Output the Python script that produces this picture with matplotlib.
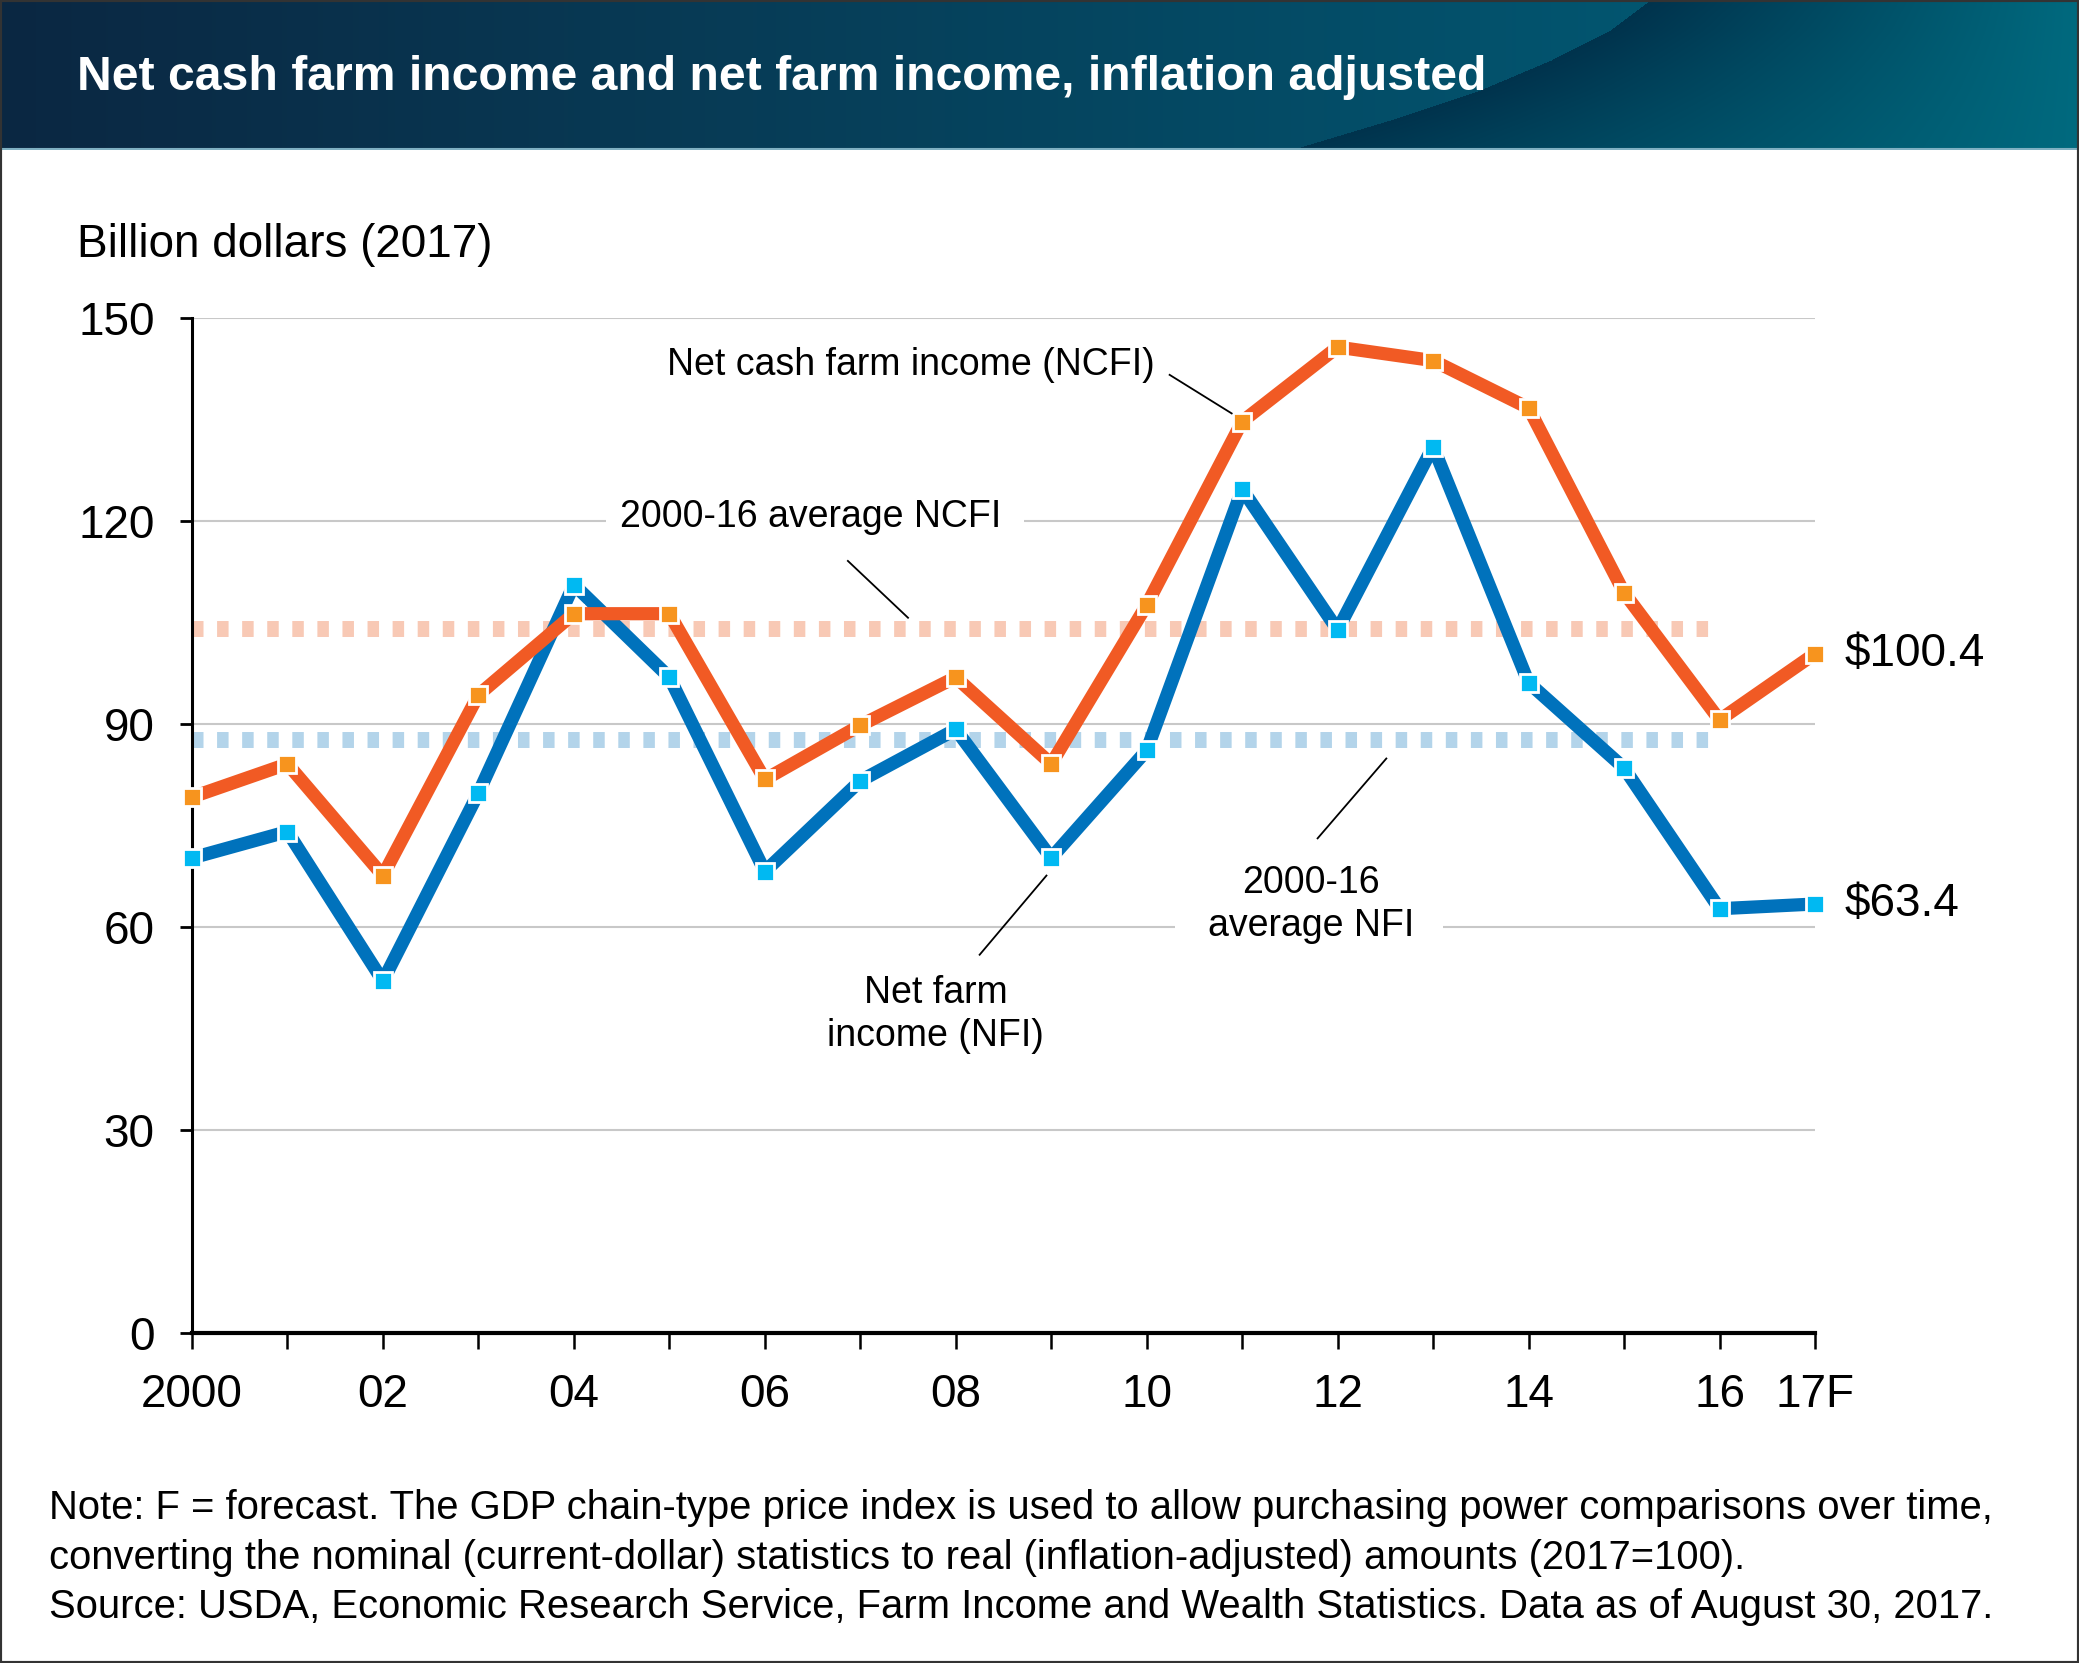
import numpy as np
import matplotlib
matplotlib.use("Agg")
import matplotlib.pyplot as plt
from matplotlib import font_manager
from matplotlib.patches import Rectangle
from matplotlib.colors import to_rgb

# --- data (billion 2017 dollars) ---
years = list(range(2000, 2018))
ncfi = [79.2, 84.1, 67.6, 94.3, 106.3, 106.3, 81.8, 89.8, 96.9, 84.1,
        107.6, 134.7, 145.7, 143.7, 136.7, 109.4, 90.6, 100.4]
nfi = [70.2, 74.1, 52.0, 79.8, 110.6, 96.9, 68.2, 81.6, 89.2, 70.2,
       86.1, 124.7, 103.9, 131.0, 96.1, 83.5, 62.7, 63.4]
avg_ncfi = 104.1
avg_nfi = 87.6
yticks = [0, 30, 60, 90, 120, 150]
xtick_years = [2000, 2002, 2004, 2006, 2008, 2010, 2012, 2014, 2016, 2017]
xtick_labels = ["2000", "02", "04", "06", "08", "10", "12", "14", "16", "17F"]

TITLE = "Net cash farm income and net farm income, inflation adjusted"
NOTE = ["Note: F = forecast. The GDP chain-type price index is used to allow purchasing power comparisons over time,",
        "converting the nominal (current-dollar) statistics to real (inflation-adjusted) amounts (2017=100).",
        "Source: USDA, Economic Research Service, Farm Income and Wealth Statistics. Data as of August 30, 2017."]

ORANGE_LINE = "#f15a24"
ORANGE_MARK = "#f7941e"
BLUE_LINE = "#0072bc"
BLUE_MARK = "#00b9f2"
GRID = "#c8c8c8"

names = {f.name for f in font_manager.fontManager.ttflist}
SANS = "Liberation Sans" if "Liberation Sans" in names else "DejaVu Sans"
NARROW = "Liberation Sans Narrow" if "Liberation Sans Narrow" in names else SANS
NARROW_SIZE = 31 if NARROW != SANS else 27
plt.rcParams["font.family"] = SANS

W, H = 2079, 1663
fig = plt.figure(figsize=(W / 100, H / 100), dpi=100)

# --- header band with gradient and swoosh ---
hh = 150
hax = fig.add_axes([0, 1 - hh / H, 1, hh / H])
xs = np.arange(W)[None, :].repeat(hh, 0)
ys = np.arange(hh)[:, None].repeat(W, 1)
c0, c1 = np.array(to_rgb("#0b2742")), np.array(to_rgb("#00627c"))
t = (xs / W)[..., None]
img = c0 * (1 - t) + c1 * t
curve_x = np.interp(ys, [0, 30, 60, 90, 120, 150], [1650, 1610, 1551, 1480, 1390, 1290])
dark = xs > curve_x
d0, d1 = np.array(to_rgb("#00334d")), np.array(to_rgb("#006a7f"))
u = np.clip((xs - curve_x) / (W - curve_x), 0, 1)[..., None]
img = np.where(dark[..., None], d0 * (1 - u) + d1 * u, img)
hax.imshow(img, aspect="auto", extent=[0, W, hh, 0])
hax.axhline(hh - 1, color="#7fb0c2", lw=1.5)
hax.set_xlim(0, W)
hax.set_ylim(hh, 0)
hax.axis("off")
fig.text(77 / W, 1 - 77 / H, TITLE, color="white", fontsize=34.7,
         fontweight="bold", va="center", ha="left")

# --- main axes ---
ax = fig.add_axes([192 / W, 1 - 1333 / H, (1815 - 192) / W, (1333 - 318) / H])
ax.set_xlim(2000, 2017)
ax.set_ylim(0, 150)

# gridlines, broken where the average labels sit
gaps = {120: (2004.34, 2008.71), 60: (2010.3, 2013.1)}
for v in yticks[1:]:
    if v in gaps:
        a, b = gaps[v]
        ax.hlines(v, 2000, a, color=GRID, lw=1.5, zorder=1)
        ax.hlines(v, b, 2017, color=GRID, lw=1.5, zorder=1)
    else:
        ax.hlines(v, 2000, 2017, color=GRID, lw=1.5, zorder=1)

# average lines
ax.plot([2000, 2016], [avg_ncfi, avg_ncfi], color="#f8c9b5", lw=11.5,
        linestyle=(0, (0.72, 0.85)), solid_capstyle="butt",
        dash_capstyle="butt", zorder=2)
ax.plot([2000, 2016], [avg_nfi, avg_nfi], color="#b3d4ea", lw=11.5,
        linestyle=(0, (0.72, 0.85)), solid_capstyle="butt",
        dash_capstyle="butt", zorder=2)

ax.plot(years, nfi, color=BLUE_LINE, lw=9.5, zorder=3, clip_on=False)
ax.plot(years, ncfi, color=ORANGE_LINE, lw=9.5, zorder=4, clip_on=False)
ax.plot(years, nfi, linestyle="none", marker="s", ms=13, mfc=BLUE_MARK,
        mec="white", mew=2, zorder=5, clip_on=False)
ax.plot(years, ncfi, linestyle="none", marker="s", ms=13, mfc=ORANGE_MARK,
        mec="white", mew=2, zorder=6, clip_on=False)

for s in ["top", "right"]:
    ax.spines[s].set_visible(False)
ax.spines["left"].set_linewidth(2.2)
ax.spines["bottom"].set_linewidth(3)
ax.set_yticks(yticks)
ax.set_xticks(years, minor=True)
ax.set_xticks(xtick_years)
ax.set_xticklabels(xtick_labels)
ax.tick_params(axis="y", direction="out", length=9, width=2, pad=18,
               labelsize=33)
ax.tick_params(axis="x", which="both", direction="out", length=11.5,
               width=1.8, pad=17, labelsize=33)

fig.text(77 / W, 1 - 245 / H, "Billion dollars (2017)", fontsize=33,
         va="center", ha="left")

# annotations
ann = dict(fontsize=NARROW_SIZE, family=NARROW, ha="center", va="center",
           linespacing=1.25)
ax.text(2007.53, 143.1, "Net cash farm income (NCFI)", **ann)
ax.plot([2010.24, 2010.89], [141.6, 135.9], color="black", lw=1.3, zorder=7)
ax.text(2006.48, 120.6, "2000-16 average NCFI", **ann)
ax.plot([2006.87, 2007.5], [114.1, 105.7], color="black", lw=1.3, zorder=7)
ax.text(2007.79, 47.1, "Net farm\nincome (NFI)", **ann)
ax.plot([2008.25, 2008.95], [55.9, 67.6], color="black", lw=1.3, zorder=7)
ax.text(2011.72, 63.3, "2000-16\naverage NFI", **ann)
ax.plot([2011.79, 2012.51], [73.1, 84.9], color="black", lw=1.3, zorder=7)

ax.text(2017.31, ncfi[-1], f"${ncfi[-1]:.1f}", fontsize=33, va="center",
        ha="left")
ax.text(2017.31, nfi[-1], f"${nfi[-1]:.1f}", fontsize=33, va="center",
        ha="left")

# note / source
for i, line in enumerate(NOTE):
    fig.text(49 / W, [0.0932, 0.0632, 0.0336][i], line, fontsize=28.8,
             va="center", ha="left")

fig.patches.append(Rectangle((0, 0), 1, 1, transform=fig.transFigure,
                             fill=False, edgecolor="#333333", lw=3))

fig.savefig("out.png", dpi=100)
